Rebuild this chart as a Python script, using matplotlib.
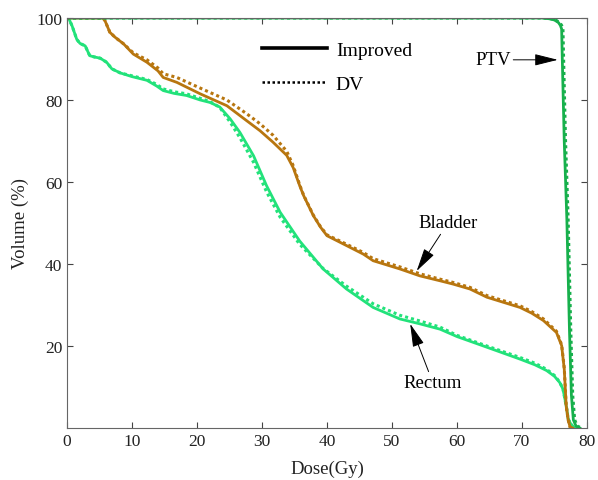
import numpy as np
import matplotlib
matplotlib.use('Agg')
import matplotlib.pyplot as plt
from matplotlib.lines import Line2D

plt.rcParams['font.family'] = ['Liberation Serif', 'DejaVu Serif']

# dose-volume histograms
dose_rectum = [0, 0.3, 0.8, 1.5, 2.0, 2.8, 3.5, 4.2, 5.1, 6.1, 6.9, 8.2, 10.0, 12.3, 13.8,
               14.8, 16.5, 18.4, 20.5, 22.0, 23.5, 25.1, 26.6, 28.7, 30.7, 32.8, 35.8, 39.4,
               43.0, 47.1, 51.2, 54.3, 57.4, 60.0, 64.6, 69.7, 72.0, 73.8, 75.0, 75.8, 76.3,
               76.6, 76.9, 77.1, 77.5, 77.9, 78.5]
vol_rectum_imp = [100, 99.8, 98, 94.8, 93.8, 93.2, 90.8, 90.5, 90.2, 89.2, 87.6, 86.6, 85.7,
                  84.8, 83.4, 82.3, 81.6, 81.1, 80.0, 79.4, 78.3, 75.4, 72.1, 66.4, 59.1, 52.6,
                  45.6, 38.8, 33.9, 29.4, 26.6, 25.4, 24.1, 22.3, 19.7, 16.8, 15.4, 14.0, 12.6,
                  11.1, 9.5, 7.1, 4.5, 2.2, 1.0, 0.2, 0]
vol_rectum_dv = [100, 99.8, 98, 94.8, 93.8, 93.2, 90.8, 90.5, 90.2, 89.2, 87.6, 86.6, 85.9,
                 85.0, 83.8, 82.7, 82.0, 81.5, 80.4, 79.6, 78.2, 74.6, 70.8, 64.8, 57.6, 51.4,
                 44.8, 38.9, 34.6, 30.3, 27.5, 26.1, 24.6, 22.6, 20.0, 17.2, 15.8, 14.3, 12.8,
                 11.2, 9.5, 7.1, 4.5, 2.2, 1.0, 0.2, 0]

dose_bladder = [0, 5.5, 5.8, 6.2, 6.6, 7.4, 8.7, 10.2, 12.3, 14.0, 14.8, 16.9, 20.5, 24.6,
                27.6, 29.7, 31.7, 33.8, 34.8, 35.8, 36.4, 37.9, 39.0, 40.0, 42.0, 45.6, 47.1,
                51.2, 54.3, 57.4, 59.4, 62.0, 64.6, 69.7, 71.5, 73.3, 75.3, 76.1, 76.5, 76.8,
                77.1, 77.4, 77.8]
vol_bladder_imp = [100, 100, 99.5, 98, 96.5, 95.3, 93.7, 91.2, 89.2, 87.1, 85.5, 84.3, 81.5,
                   78.6, 75.0, 72.5, 69.7, 66.5, 63.5, 59.1, 56.7, 51.8, 49.0, 46.9, 45.3, 42.4,
                   40.8, 38.8, 37.1, 35.9, 35.1, 33.9, 31.9, 29.4, 28.0, 26.2, 23.3, 20.1, 14.4,
                   5.4, 2.0, 0.2, 0]
vol_bladder_dv = [100, 100, 99.5, 98, 96.5, 95.3, 93.7, 91.5, 89.8, 87.8, 86.4, 85.5, 82.9,
                  80.0, 76.7, 74.2, 71.4, 67.5, 64.0, 59.3, 56.8, 51.9, 49.1, 47.1, 45.6, 42.8,
                  41.3, 39.3, 37.6, 36.3, 35.5, 34.3, 32.3, 29.8, 28.4, 26.6, 23.6, 20.3, 14.6,
                  5.5, 2.0, 0.2, 0]

dose_ptv_imp = [0, 73.0, 74.3, 75.0, 75.6, 75.9, 76.1, 76.2, 76.5, 76.9, 77.3, 77.6, 77.9, 78.3, 78.9]
dose_ptv_dv = [0, 73.2, 74.5, 75.2, 75.8, 76.1, 76.3, 76.4, 76.7, 77.1, 77.5, 77.8, 78.1, 78.5, 79.1]
vol_ptv = [100, 100, 99.8, 99.5, 98.9, 98.2, 97.3, 90, 70, 51, 24, 8, 2, 0.5, 0]

c_bladder = '#b8760f'
c_rectum = '#22e27a'
c_ptv = '#17b04c'
dots = (0, (1, 1))

fig = plt.figure(figsize=(5.98, 4.81), dpi=100)
fig.patch.set_facecolor('w')
ax = fig.add_axes([67/598., 1-429/481., 520/598., 410/481.])

ax.plot(dose_rectum, vol_rectum_dv, ls=dots, color=c_rectum, lw=2.2)
ax.plot(dose_rectum, vol_rectum_imp, '-', color=c_rectum, lw=2.0)
ax.plot(dose_bladder, vol_bladder_dv, ls=dots, color=c_bladder, lw=2.2)
ax.plot(dose_bladder, vol_bladder_imp, '-', color=c_bladder, lw=2.0)
ax.plot(dose_ptv_dv, vol_ptv, ls=dots, color=c_ptv, lw=2.2)
ax.plot(dose_ptv_imp, vol_ptv, '-', color=c_ptv, lw=2.0)

ax.set_xlim(0, 80)
ax.set_ylim(0, 100)
ax.set_xticks(np.arange(0, 81, 10))
ax.set_yticks([20, 40, 60, 80, 100])
ax.tick_params(direction='in', top=True, right=True, labelsize=12.5, length=4,
               colors='#444444', labelcolor='#222222')
for sp in ax.spines.values():
    sp.set_color('#666666')
ax.set_xlabel('Dose(Gy)', fontsize=13.5, labelpad=8, color='#222222')
ax.set_ylabel('Volume (%)', fontsize=13.5, labelpad=5, color='#222222')

handles = [Line2D([], [], color='k', lw=2.6, ls='-'),
           Line2D([], [], color='k', lw=1.8, ls=dots)]
ax.legend(handles, ['Improved', 'DV'], loc='upper left', bbox_to_anchor=(0.375, 0.943),
          frameon=False, fontsize=14, handlelength=3.35, handletextpad=0.45,
          labelspacing=0.85, borderpad=0, borderaxespad=0)

arr = dict(arrowstyle='-|>,head_length=0.8,head_width=0.2', color='k', lw=0.7,
           mutation_scale=18, shrinkA=0, shrinkB=0)
ax.annotate('PTV', xy=(75.5, 89.8), xytext=(65.5, 89.8), fontsize=13.5,
            ha='center', va='center', arrowprops=arr)
ax.annotate('Bladder', xy=(53.8, 38.3), xytext=(58.6, 50.0), fontsize=13.5,
            ha='center', va='center', arrowprops=arr)
ax.annotate('Rectum', xy=(52.8, 25.4), xytext=(56.3, 11.0), fontsize=13.5,
            ha='center', va='center', arrowprops=arr)

fig.savefig('out.png', dpi=100)
